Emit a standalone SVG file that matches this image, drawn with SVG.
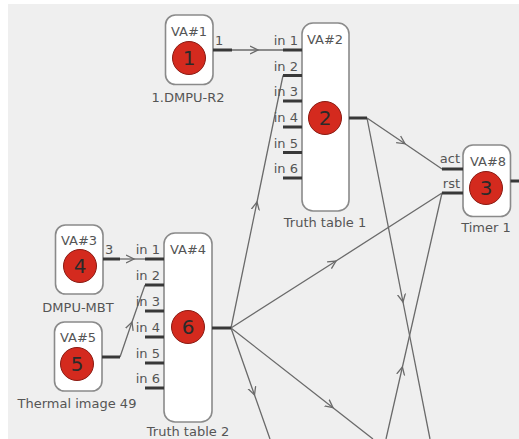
<svg xmlns="http://www.w3.org/2000/svg" width="519" height="439" viewBox="0 0 519 439">
<style>
text{font-family:"DejaVu Sans",Verdana,sans-serif;font-size:13px;fill:#555}
.box{fill:#fff;stroke:#8a8a8a;stroke-width:1.6}
.dot{fill:#d42a1e;stroke:#8a1a12;stroke-width:1}
.num{font-size:20px;fill:#2a2a2a;text-anchor:middle}
.c{text-anchor:middle}
.r{text-anchor:end}
.stub{stroke:#383838;stroke-width:3;fill:none}
.ln{stroke:#6a6a6a;stroke-width:1.3;fill:none;marker-mid:url(#arr)}
</style>
<defs>
<marker id="arr" markerWidth="12" markerHeight="12" refX="8" refY="5" orient="auto" markerUnits="userSpaceOnUse">
<path d="M0,1 L8,5 L0,9" fill="none" stroke="#6a6a6a" stroke-width="1.3"/>
</marker>
</defs>
<rect x="0" y="0" width="519" height="439" fill="#fff"/>
<rect x="8" y="4" width="511" height="435" fill="#efefef"/>

<g id="connectors">
<path class="ln" d="M232,50 L258,50 L283,50"/>
<path class="ln" d="M120,259 L134,259 L145,259"/>
<path class="ln" d="M120,357 L132,322 L145,285"/>
<path class="ln" d="M231,328 L257,202 L283,75.5"/>
<path class="ln" d="M231,328 L336,261 L442,193"/>
<path class="ln" d="M231,328 L333,407.7 L373,439"/>
<path class="ln" d="M231,328 L254.5,395 L270,439"/>
<path class="ln" d="M367,118 L405,143.8 L442,169"/>
<path class="ln" d="M367,118 L403,302 L430,439"/>
<path class="ln" d="M386,439 L402.4,367 L442,193"/>
</g>

<g id="va1">
<rect class="box" x="165.5" y="15" width="47.5" height="69.5" rx="10"/>
<text class="c" x="189" y="36">VA#1</text>
<circle class="dot" cx="189" cy="58" r="16.5"/>
<text class="num" x="189" y="65">1</text>
<path class="stub" d="M213,50 H232"/>
<text x="215" y="45">1</text>
<text class="c" x="188" y="102">1.DMPU-R2</text>
</g>

<g id="va2">
<rect class="box" x="302" y="23" width="47" height="188" rx="11"/>
<text class="c" x="325" y="44">VA#2</text>
<circle class="dot" cx="325" cy="118" r="16.5"/>
<text class="num" x="325" y="125">2</text>
<path class="stub" d="M283,50 H302 M283,75.5 H302 M283,101 H302 M283,127 H302 M283,152.5 H302 M283,178 H302 M349,118 H367"/>
<text class="r" x="298" y="45">in 1</text>
<text class="r" x="298" y="70.5">in 2</text>
<text class="r" x="298" y="96">in 3</text>
<text class="r" x="298" y="122">in 4</text>
<text class="r" x="298" y="147.5">in 5</text>
<text class="r" x="298" y="173">in 6</text>
<text class="c" x="325" y="227">Truth table 1</text>
</g>

<g id="va8">
<rect class="box" x="463" y="145" width="47.5" height="71.5" rx="10"/>
<text class="c" x="488" y="166">VA#8</text>
<circle class="dot" cx="486" cy="188" r="16.5"/>
<text class="num" x="486" y="195">3</text>
<path class="stub" d="M442,169 H463 M442,193 H463 M510.5,181 H519"/>
<text class="r" x="460" y="163">act</text>
<text class="r" x="460" y="188">rst</text>
<text class="c" x="486" y="232">Timer 1</text>
</g>

<g id="va3">
<rect class="box" x="55.5" y="225" width="47.5" height="69" rx="10"/>
<text class="c" x="79" y="245">VA#3</text>
<circle class="dot" cx="80" cy="266" r="16.5"/>
<text class="num" x="80" y="273">4</text>
<path class="stub" d="M103,259 H120"/>
<text x="105" y="254">3</text>
<text class="c" x="78" y="312">DMPU-MBT</text>
</g>

<g id="va5">
<rect class="box" x="54.5" y="322" width="47.5" height="69" rx="10"/>
<text class="c" x="78" y="342">VA#5</text>
<circle class="dot" cx="77" cy="364" r="16.5"/>
<text class="num" x="77" y="371">5</text>
<path class="stub" d="M102,357 H120"/>
<text class="c" x="77" y="408">Thermal image 49</text>
</g>

<g id="va4">
<rect class="box" x="164" y="233" width="48" height="189" rx="11"/>
<text class="c" x="188" y="254">VA#4</text>
<circle class="dot" cx="188" cy="327" r="16.5"/>
<text class="num" x="188" y="334">6</text>
<path class="stub" d="M145,259 H164 M145,285 H164 M145,311 H164 M145,337 H164 M145,363 H164 M145,388 H164 M212,328 H231"/>
<text class="r" x="160" y="254">in 1</text>
<text class="r" x="160" y="280">in 2</text>
<text class="r" x="160" y="306">in 3</text>
<text class="r" x="160" y="332">in 4</text>
<text class="r" x="160" y="358">in 5</text>
<text class="r" x="160" y="383">in 6</text>
<text class="c" x="188" y="436">Truth table 2</text>
</g>
</svg>
